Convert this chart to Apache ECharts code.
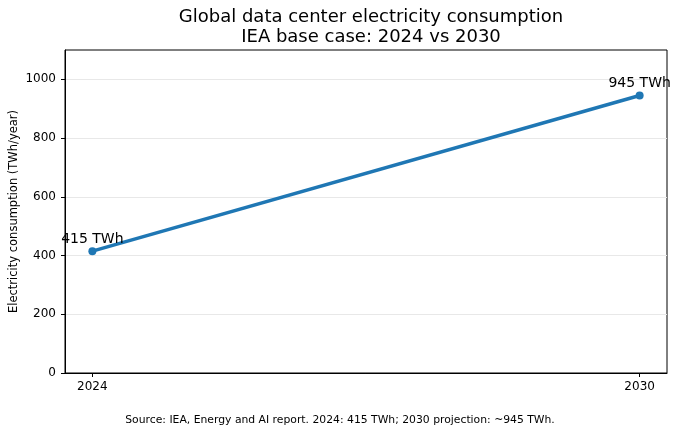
<!DOCTYPE html>
<html>
<head>
<meta charset="utf-8">
<script src="https://cdn.jsdelivr.net/npm/echarts@6/dist/echarts.min.js"></script>
<style>
  html, body { margin: 0; padding: 0; background: #fff; }
  #chart { width: 680px; height: 435px; }
</style>
</head>
<body>
<div id="chart"></div>
<script>
// data
var years = [2024, 2030];
var consumption = [415, 945];
var yTicks = [0, 200, 400, 600, 800, 1000];

var points = years.map(function (y, i) { return [y, consumption[i]]; });

var font = 'DejaVu Sans';
var chart = echarts.init(document.getElementById('chart'));

var option = {
  animation: false,
  title: {
    text: 'Global data center electricity consumption\nIEA base case: 2024 vs 2030',
    left: 366,
    textAlign: 'center',
    top: 2,
    textStyle: { fontFamily: font, fontSize: 18, fontWeight: 'normal', color: '#000', lineHeight: 20 }
  },
  graphic: [{
    type: 'text',
    left: 'center',
    top: 415,
    style: {
      text: 'Source: IEA, Energy and AI report. 2024: 415 TWh; 2030 projection: ~945 TWh.',
      font: '10.8px "DejaVu Sans"',
      fill: '#000'
    }
  }],
  grid: {
    left: 65, right: 13, top: 50, bottom: 62,
    outerBoundsMode: 'none',
    containLabel: false,
    show: true, borderColor: '#000', borderWidth: 1
  },
  xAxis: {
    type: 'value',
    min: 2023.7,
    max: 2030.3,
    axisLine: { show: true, onZero: false, lineStyle: { color: '#000' } },
    axisTick: { show: true, inside: false, length: 4, customValues: years, lineStyle: { color: '#000' } },
    axisLabel: {
      customValues: years,
      formatter: function (v) { return String(v); },
      color: '#000', fontFamily: font, fontSize: 12, margin: 8
    },
    splitLine: { show: false }
  },
  yAxis: {
    type: 'value',
    min: 0,
    max: 1100,
    interval: 200,
    name: 'Electricity consumption (TWh/year)',
    nameLocation: 'middle',
    nameGap: 45,
    nameMoveOverlap: false,
    nameTextStyle: { fontFamily: font, fontSize: 11.5, color: '#000' },
    axisLine: { show: true, lineStyle: { color: '#000' } },
    axisTick: { show: true, inside: false, length: 4, customValues: yTicks, lineStyle: { color: '#000' } },
    axisLabel: {
      customValues: yTicks,
      formatter: function (v) { return String(v); },
      color: '#000', fontFamily: font, fontSize: 12, margin: 9
    },
    splitLine: { show: true, lineStyle: { color: '#e8e8e8', width: 1 } }
  },
  series: [{
    type: 'line',
    data: points,
    symbol: 'circle',
    symbolSize: 8,
    lineStyle: { color: '#1f77b4', width: 3.5 },
    itemStyle: { color: '#1f77b4' },
    label: {
      show: true,
      position: 'top',
      distance: 1,
      formatter: function (p) { return p.value[1] + ' TWh'; },
      fontFamily: font,
      fontSize: 14,
      color: '#000'
    }
  }]
};

chart.setOption(option);
</script>
</body>
</html>
